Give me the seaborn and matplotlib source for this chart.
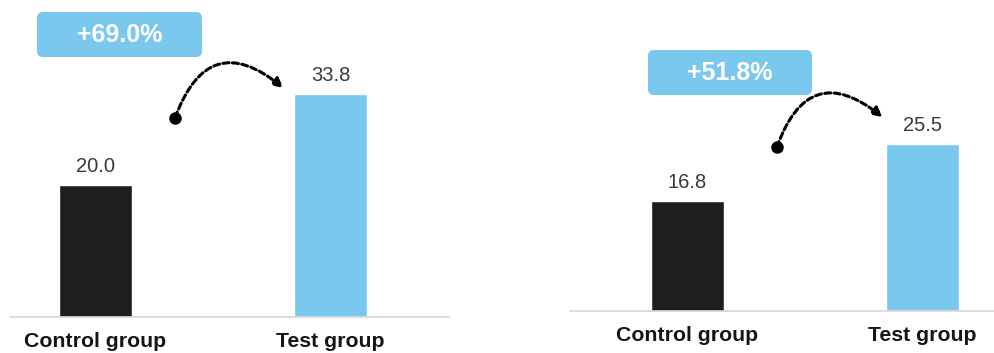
import matplotlib
matplotlib.use("Agg")
import matplotlib.pyplot as plt
import seaborn as sns
import pandas as pd
from matplotlib.patches import FancyBboxPatch

# Data
groups = ["Control group", "Test group"]
left_values = [20.0, 33.8]
right_values = [16.8, 25.5]

bar_colors = ["#1e1e1e", "#7bc8ee"]
badge_color = "#7bc8ee"

sns.set_theme(style="white")
plt.rcParams["font.family"] = ["Liberation Sans", "DejaVu Sans"]

W, H = 994, 353
fig = plt.figure(figsize=(W / 100, H / 100), dpi=100)
fig.patch.set_facecolor("white")


def px_axes(x0, x1, y_base):
    # axes spanning from the figure top down to the baseline (pixel coords)
    return fig.add_axes([x0 / W, (H - y_base) / H, (x1 - x0) / W, y_base / H])


def badge(x0, y0, x1, y1, text):
    # rounded label box, positioned in pixels (top-left origin)
    box = FancyBboxPatch(
        (x0 / 100, (H - y1) / 100), (x1 - x0) / 100, (y1 - y0) / 100,
        boxstyle="round,pad=0,rounding_size=0.06",
        transform=fig.dpi_scale_trans, facecolor=badge_color, edgecolor="none",
    )
    fig.add_artist(box)
    fig.text((x0 + x1) / 2 / 100, (H - (y0 + y1) / 2) / 100, text,
             transform=fig.dpi_scale_trans, ha="center", va="center",
             color="white", fontsize=18, fontweight="bold")


def draw_panel(ax, values, xlim, ymax, start, end):
    df = pd.DataFrame({"group": groups, "value": values})
    sns.barplot(data=df, x="group", y="value", hue="group", palette=bar_colors,
                width=0.31, saturation=1, legend=False, ax=ax)
    ax.set_xlim(*xlim)
    ax.set_ylim(0, ymax)

    for bar in list(ax.patches):
        h = bar.get_height()
        ax.annotate(f"{h:.1f}", (bar.get_x() + bar.get_width() / 2, h),
                    xytext=(0, 9), textcoords="offset points",
                    ha="center", va="baseline", fontsize=14.5, color="#3a3a3a")

    # dashed curved arrow from control to test
    ax.annotate("", xy=end, xytext=start,
                arrowprops=dict(arrowstyle="-|>", connectionstyle="arc3,rad=-0.7",
                                linestyle=(0, (2, 1.1)), lw=2.2, color="black",
                                mutation_scale=14, shrinkA=0, shrinkB=0))
    ax.plot([start[0]], [start[1]], "o", color="black", markersize=8)

    ax.set_xlabel("")
    ax.set_ylabel("")
    ax.set_yticks([])
    ax.tick_params(axis="x", length=0, pad=11, labelsize=15.3, labelcolor="#151515")
    for lbl in ax.get_xticklabels():
        lbl.set_fontweight("bold")
    for side in ["top", "left", "right"]:
        ax.spines[side].set_visible(False)
    ax.spines["bottom"].set_color("#ddd6d2")
    ax.spines["bottom"].set_linewidth(1.2)
    ax.set_facecolor("none")


ax_l = px_axes(10, 449, 317)
ax_r = px_axes(570, 994, 311)

draw_panel(ax_l, left_values, (-0.361, 1.503), 317 / 6.6, (0.34, 30.2), (0.80, 34.7))
draw_panel(ax_r, right_values, (-0.5, 1.304), 311 / 6.55, (0.38, 25.0), (0.83, 29.6))

left_pct = (left_values[1] / left_values[0] - 1) * 100
right_pct = (right_values[1] / right_values[0] - 1) * 100
badge(37, 12, 202, 57, f"+{left_pct:.1f}%")
badge(648, 50, 812, 95, f"+{right_pct:.1f}%")

fig.savefig("out.png", dpi=100)
